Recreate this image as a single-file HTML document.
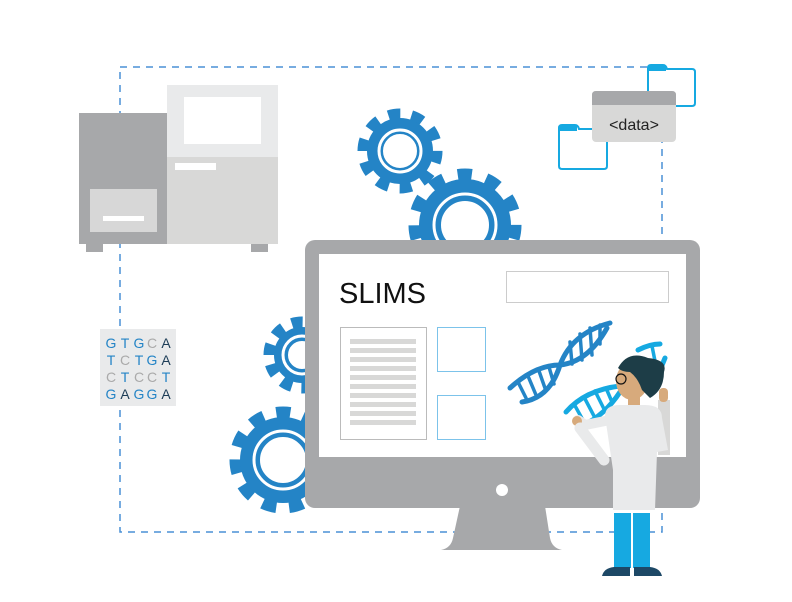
<!DOCTYPE html>
<html><head><meta charset="utf-8"><style>body{margin:0;background:#fff}svg{display:block}</style></head><body>
<svg width="792" height="602" viewBox="0 0 792 602" xmlns="http://www.w3.org/2000/svg">
<rect x="120" y="67" width="542" height="465" fill="none" stroke="#4a90d6" stroke-width="1.5" stroke-dasharray="7,6"/>
<!-- instrument -->
<rect x="79" y="113" width="88" height="131" fill="#a7a8aa"/>
<rect x="167" y="85" width="111" height="72" fill="#e9eaeb"/>
<rect x="167" y="157" width="111" height="87" fill="#d8d8d7"/>
<rect x="184" y="97" width="77" height="47" fill="#fff"/>
<rect x="175" y="163" width="41" height="7" fill="#fff"/>
<rect x="90" y="189" width="67" height="43" fill="#d7d7d7"/>
<rect x="103" y="216" width="41" height="5" fill="#fff"/>
<rect x="86" y="244" width="17" height="8" fill="#a7a8aa"/>
<rect x="251" y="244" width="17" height="8" fill="#a7a8aa"/>
<!-- DNA letters -->
<rect x="100" y="329" width="76" height="77" fill="#e9eaeb"/>
<g font-family="Liberation Sans,sans-serif" font-size="14" text-anchor="middle">
<text y="348"><tspan x="111" fill="#2484c6">G</tspan><tspan x="125" fill="#2484c6">T</tspan><tspan x="139" fill="#2484c6">G</tspan><tspan x="152" fill="#aaa">C</tspan><tspan x="166" fill="#1d3d57">A</tspan></text>
<text y="365"><tspan x="111" fill="#2484c6">T</tspan><tspan x="125" fill="#aaa">C</tspan><tspan x="139" fill="#2484c6">T</tspan><tspan x="152" fill="#2484c6">G</tspan><tspan x="166" fill="#1d3d57">A</tspan></text>
<text y="382"><tspan x="111" fill="#aaa">C</tspan><tspan x="125" fill="#2484c6">T</tspan><tspan x="139" fill="#aaa">C</tspan><tspan x="152" fill="#aaa">C</tspan><tspan x="166" fill="#2484c6">T</tspan></text>
<text y="399"><tspan x="111" fill="#2484c6">G</tspan><tspan x="125" fill="#1d3d57">A</tspan><tspan x="139" fill="#2484c6">G</tspan><tspan x="152" fill="#2484c6">G</tspan><tspan x="166" fill="#1d3d57">A</tspan></text>
</g>
<!-- gears -->
<g fill="none" stroke="#2484c6">
<circle cx="400" cy="151" r="37" stroke-width="11" stroke-dasharray="12,11.2"/>
<circle cx="400" cy="151" r="25" stroke-width="16"/>
<circle cx="465" cy="225" r="50" stroke-width="13" stroke-dasharray="14,14.5"/>
<circle cx="465" cy="225" r="35" stroke-width="22"/>
<circle cx="302" cy="355" r="33" stroke-width="11" stroke-dasharray="11,9.7"/>
<circle cx="302" cy="355" r="21" stroke-width="14"/>
<circle cx="283" cy="460" r="47" stroke-width="13" stroke-dasharray="14,12.8"/>
<circle cx="283" cy="460" r="33" stroke-width="20"/>
</g>
<g fill="none" stroke="#fff" stroke-width="3">
<circle cx="400" cy="151" r="21"/><circle cx="465" cy="225" r="31"/><circle cx="302" cy="355" r="19"/><circle cx="283" cy="460" r="29"/>
</g>
<!-- folders and data -->
<path d="M648 106 V68 q0-3 3-3 h12 q3 0 4 4 h25 q3 0 3 3 v31 q0 3-3 3 z" fill="#fff" stroke="#16a9e1" stroke-width="2"/>
<rect x="648" y="65" width="18" height="6" fill="#16a9e1"/>
<path d="M559 166 V128 q0-3 3-3 h13 q3 0 4 4 h25 q3 0 3 3 v34 q0 3-3 3 h-42 q-3 0-3-3z" fill="#fff" stroke="#16a9e1" stroke-width="2"/>
<rect x="559" y="125" width="18" height="6" fill="#16a9e1"/>
<rect x="592" y="91" width="84" height="51" rx="4" fill="#d8d8d7"/>
<path d="M592 105 V95 q0-4 4-4 h76 q4 0 4 4 V105z" fill="#a7a8aa"/>
<text x="634" y="130" font-family="Liberation Sans,sans-serif" font-size="16" text-anchor="middle" fill="#222">&lt;data&gt;</text>
<!-- monitor -->
<path d="M460 506 L545 506 L550 538 Q552 548 562 550 L441 550 Q451 548 453 538Z" fill="#a7a8aa"/>
<rect x="305" y="240" width="395" height="268" rx="10" fill="#a7a8aa"/>
<rect x="319" y="254" width="367" height="203" fill="#fff"/>
<circle cx="502" cy="490" r="6" fill="#fff"/>
<text x="339" y="303" font-family="Liberation Sans,sans-serif" font-size="29" fill="#111">SLIMS</text>
<rect x="506.5" y="271.5" width="162" height="31" fill="#fff" stroke="#ccc"/>
<rect x="340.5" y="327.5" width="86" height="112" fill="#fff" stroke="#bbb"/>
<g fill="#d8d8d7">
<rect x="350" y="339" width="66" height="5"/><rect x="350" y="348" width="66" height="5"/><rect x="350" y="357" width="66" height="5"/><rect x="350" y="366" width="66" height="5"/><rect x="350" y="375" width="66" height="5"/><rect x="350" y="384" width="66" height="5"/><rect x="350" y="393" width="66" height="5"/><rect x="350" y="402" width="66" height="5"/><rect x="350" y="411" width="66" height="5"/><rect x="350" y="420" width="66" height="5"/>
</g>
<rect x="437.5" y="327.5" width="48" height="44" fill="#fff" stroke="#7cc3ea"/>
<rect x="437.5" y="395.5" width="48" height="44" fill="#fff" stroke="#7cc3ea"/>
<!-- DNA dark -->
<g stroke="#2484c6" fill="none" stroke-linecap="round">
<path d="M510 388 Q535 365 560 365 Q588 362 607 328" stroke-width="5"/>
<path d="M522 402 Q550 398 560 365 Q572 333 610 323" stroke-width="5"/>
<g stroke-width="3.5"><line x1="518" y1="382" x2="526" y2="398"/><line x1="528" y1="376" x2="536" y2="395"/><line x1="539" y1="371" x2="546" y2="391"/><line x1="549" y1="367" x2="554" y2="384"/><line x1="572" y1="364" x2="570" y2="342"/><line x1="582" y1="360" x2="580" y2="334"/><line x1="592" y1="355" x2="590" y2="328"/><line x1="600" y1="344" x2="600" y2="325"/></g>
</g>
<!-- DNA light -->
<g stroke="#16a9e1" fill="none" stroke-linecap="round">
<path d="M566 412 Q585 390 620 386" stroke-width="5"/>
<path d="M582 426 Q605 415 620 392" stroke-width="5"/>
<path d="M638 350 Q650 344 660 344 M665 358 Q660 372 650 382" stroke-width="5"/>
<g stroke-width="3.5"><line x1="574" y1="404" x2="584" y2="422"/><line x1="584" y1="397" x2="594" y2="416"/><line x1="595" y1="391" x2="604" y2="409"/><line x1="606" y1="388" x2="612" y2="402"/><line x1="652" y1="346" x2="656" y2="366"/></g>
</g>
<!-- scientist -->
<path d="M610 420 L585 425 L578 420" stroke="#e9eaeb" stroke-width="10" fill="none" stroke-linecap="round"/>
<circle cx="577" cy="421" r="5" fill="#d7aa7c"/>
<path d="M604 460 L580 428" stroke="#e9eaeb" stroke-width="11" stroke-linecap="round"/>
<rect x="658" y="400" width="12" height="55" fill="#d8d8d7"/>
<rect x="659" y="388" width="9" height="14" rx="4" fill="#d7aa7c"/>
<rect x="628" y="395" width="12" height="14" fill="#d7aa7c"/>
<path d="M605 416 Q605 405 620 405 L645 405 Q662 405 662 418 L668 450 L657 452 L655 510 L613 510 L613 470 Z" fill="#e9eaeb"/>
<ellipse cx="632" cy="381" rx="16" ry="19" fill="#d7aa7c"/>
<path d="M618 368 Q628 350 648 358 Q668 360 664 372 Q664 390 650 398 L642 390 Q638 378 630 372 Q622 372 618 368Z" fill="#1d3d47"/>
<circle cx="621" cy="379" r="5" fill="none" stroke="#111" stroke-width="1.2"/>
<rect x="614" y="513" width="17" height="55" fill="#16a9e1"/>
<rect x="633" y="513" width="17" height="55" fill="#16a9e1"/>
<path d="M602 576 Q604 568 614 567 L630 567 L630 576Z" fill="#1d4866"/>
<path d="M634 576 L634 567 L650 567 Q660 568 662 576Z" fill="#1d4866"/>
</svg>
</body></html>
